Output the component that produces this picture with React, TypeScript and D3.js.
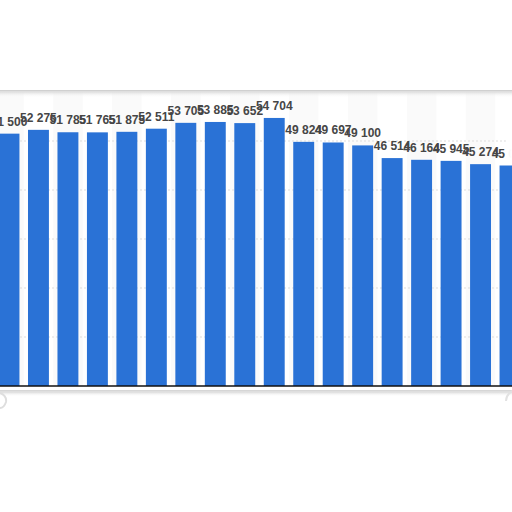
import * as d3 from "d3";

const categories = [
  "b01", "b02", "b03", "b04", "b05", "b06", "b07", "b08", "b09",
  "b10", "b11", "b12", "b13", "b14", "b15", "b16", "b17", "b18",
];
const values = [
  51500, 52275, 51785, 51765, 51875, 52511, 53705, 53885, 53652,
  54704, 49824, 49697, 49100, 46514, 46164, 45945, 45274, 45000,
];
const gridTicks = [10000, 20000, 30000, 40000, 50000];

const fmt = (v: number) => d3.format(",")(v).replace(/,/g, " ");

export default function App() {
  const width = 512;
  const height = 512;
  const top = 92;
  const bottom = 386;

  const x = d3
    .scaleBand(categories, [-5.75, 524.75])
    .paddingInner(0.29)
    .paddingOuter(0.145);
  const y = d3.scaleLinear([0, 60000], [bottom, top]);
  const step = x.step();

  return (
    <svg
      width={width}
      height={height}
      viewBox={`0 0 ${width} ${height}`}
      style={{ position: "absolute", left: 0, top: 0, background: "#fff" }}
    >
      <defs>
        <linearGradient id="shadeTop" x1="0" y1="0" x2="0" y2="1">
          <stop offset="0" stopColor="#dadada" />
          <stop offset="1" stopColor="#ffffff" stopOpacity="0" />
        </linearGradient>
        <linearGradient id="shadeBottom" x1="0" y1="0" x2="0" y2="1">
          <stop offset="0" stopColor="#d4d4d4" />
          <stop offset="1" stopColor="#ffffff" stopOpacity="0" />
        </linearGradient>
        <linearGradient id="fadeRight" x1="0" y1="0" x2="1" y2="0">
          <stop offset="0" stopColor="#ffffff" stopOpacity="0" />
          <stop offset="0.5" stopColor="#ffffff" stopOpacity="0.95" />
          <stop offset="1" stopColor="#ffffff" stopOpacity="1" />
        </linearGradient>
      </defs>

      {/* alternating column bands */}
      {categories.map((c, i) =>
        i % 2 === 0 ? (
          <rect
            key={`band-${c}`}
            x={(x(c) ?? 0) - (step - x.bandwidth()) / 2}
            y={top}
            width={step}
            height={bottom - top}
            fill="#fafafa"
          />
        ) : null
      )}

      {gridTicks.map((t) => (
        <line
          key={t}
          x1={0}
          x2={width}
          y1={y(t)}
          y2={y(t)}
          stroke="#dddddd"
          strokeDasharray="2 2"
        />
      ))}

      {categories.map((c, i) => (
        <rect
          key={c}
          x={x(c)}
          y={y(values[i])}
          width={x.bandwidth()}
          height={bottom - y(values[i])}
          fill="#2a72d6"
        />
      ))}

      {categories.map((c, i) => (
        <text
          key={`lbl-${c}`}
          x={(x(c) ?? 0) + x.bandwidth() / 2}
          y={y(values[i]) - 8}
          textAnchor="middle"
          fontFamily="'Liberation Sans', Arial, sans-serif"
          fontWeight={700}
          fontSize={12}
          fill="#464646"
        >
          {fmt(values[i])}
        </text>
      ))}

      <line x1={0} x2={width} y1={bottom} y2={bottom} stroke="#111" strokeWidth={1.5} />

      {/* frame */}
      <rect x={505} y={140} width={7} height={25} fill="url(#fadeRight)" />
      <rect x={0} y={0} width={width} height={top - 2} fill="#fff" />
      <rect x={0} y={top - 2} width={width} height={1.6} fill="#d0d0d0" />
      <rect x={0} y={top - 0.4} width={width} height={6} fill="url(#shadeTop)" />
      <rect x={0} y={bottom + 1} width={width} height={height - bottom} fill="#fff" />
      <rect x={0} y={bottom + 4} width={width} height={1.6} fill="#d6d6d6" />
      <rect x={0} y={bottom + 5.6} width={width} height={5} fill="url(#shadeBottom)" />
      <path
        d="M0,393 Q7,396 6,402 Q4,408 0,408"
        fill="none"
        stroke="#dedede"
        strokeWidth={2}
      />
      <path
        d="M512,391 Q506,395 506,401"
        fill="none"
        stroke="#e2e2e2"
        strokeWidth={2}
      />
    </svg>
  );
}
